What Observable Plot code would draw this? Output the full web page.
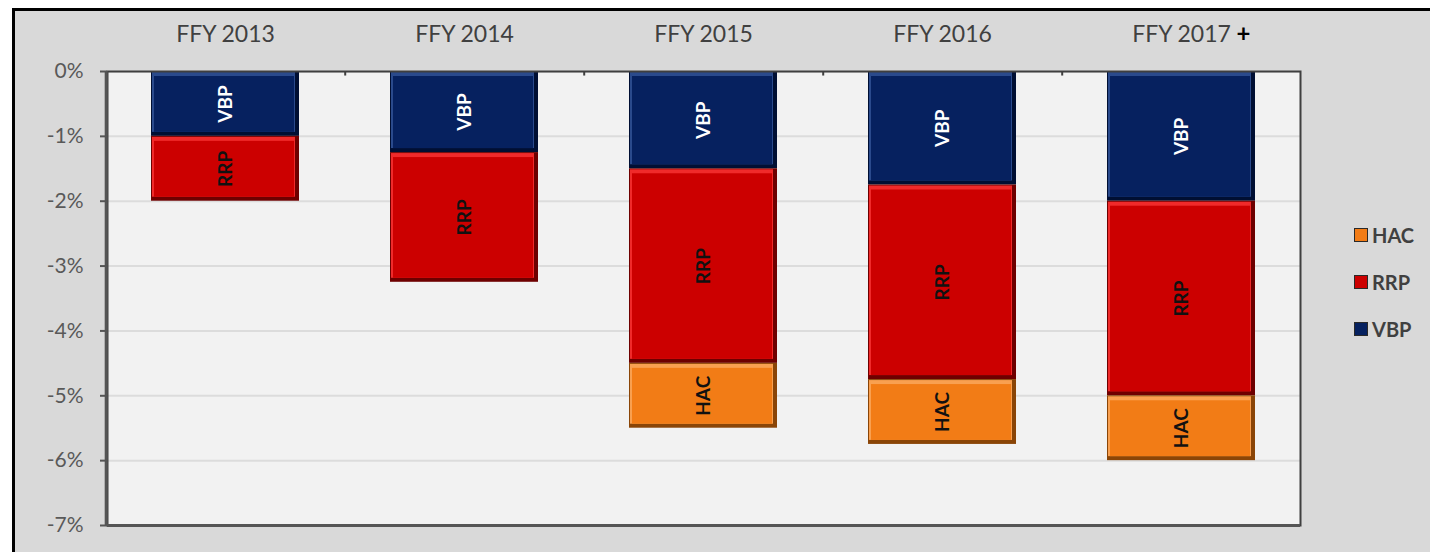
<!DOCTYPE html>
<html>
<head>
<meta charset="utf-8">
<script src="https://cdn.jsdelivr.net/npm/d3@7"></script>
<script src="https://cdn.jsdelivr.net/npm/@observablehq/plot@0.6"></script>
<style>
  html, body { margin: 0; padding: 0; background: #ffffff; overflow: hidden; width: 1430px; height: 552px; }
  #wrap { position: absolute; left: 12px; top: 8px; width: 1430px; height: 560px; border-left: 3px solid #000; border-top: 3px solid #000; background: #d9d9d9; }
  #chart { position: absolute; left: 0; top: 0; }
  #legend { position: absolute; left: 1339px; top: 200px; font-family: Lato, "Open Sans", sans-serif; }
  .row { display: flex; align-items: center; height: 47px; }
  .sw { width: 14px; height: 14px; border: 1.5px solid #2a2a2a; margin-right: 4px; box-sizing: border-box; }
  .lb { font-weight: bold; font-size: 20px; color: #404040; }
</style>
</head>
<body>
<div id="wrap"><div id="chart"></div><div id="legend"></div></div>
<script>
const categories = ["FFY 2013", "FFY 2014", "FFY 2015", "FFY 2016", "FFY 2017"];
const categoryMarks = [{cat: "FFY 2017", text: "+"}];
const series = ["VBP", "RRP", "HAC"];
const vbp = [-1.0, -1.25, -1.5, -1.75, -2.0];
const rrp = [-1.0, -2.0, -3.0, -3.0, -3.0];
const hac = [0, 0, -1.0, -1.0, -1.0];
const yTicks = [0, -1, -2, -3, -4, -5, -6, -7];
const legendOrder = ["HAC", "RRP", "VBP"];

const colors = {VBP: "#06215f", RRP: "#cc0000", HAC: "#f27c16"};
const edges = {VBP: "#000f33", RRP: "#6e0000", HAC: "#8a4507"};
const highlights = {VBP: "#2a4a8c", RRP: "#f02a2a", HAC: "#f9a050"};
const textColors = {VBP: "#ffffff", RRP: "#111111", HAC: "#111111"};

const valuesBySeries = {VBP: vbp, RRP: rrp, HAC: hac};
const data = [];
series.forEach(s => categories.forEach((c, i) => {
  const v = valuesBySeries[s][i];
  if (v !== 0) data.push({cat: c, series: s, value: v});
}));

const W = 1415, H = 541;
const mL = 92, mR = 130, mT = 60, mB = 27;
const step = (W - mL - mR) / categories.length;

const stack = extra => Plot.stackY({x: "cat", y: "value", z: "series", order: series, ...extra});

const chart = Plot.plot({
  width: W,
  height: H,
  marginLeft: mL,
  marginRight: mR,
  marginTop: mT,
  marginBottom: mB,
  style: {background: "transparent", fontFamily: "Lato, 'Open Sans', sans-serif"},
  x: {domain: categories, paddingInner: 0.38, paddingOuter: 0.18, axis: null},
  y: {domain: [-7, 0], axis: null},
  marks: [
    Plot.frame({fill: "#f2f2f2", stroke: "none"}),
    Plot.gridY(yTicks, {stroke: "#dcdcdc", strokeOpacity: 1, strokeWidth: 2}),
    // bar edges (bevel shadow)
    Plot.barY(data, stack({fill: d => edges[d.series]})),
    // top highlight strip
    Plot.barY(data, stack({fill: d => highlights[d.series], insetLeft: 1, insetRight: 4, insetTop: 1, insetBottom: 4})),
    // bar faces
    Plot.barY(data, stack({fill: d => colors[d.series], insetLeft: 3, insetRight: 5, insetTop: 5, insetBottom: 4})),
    Plot.text(data, stack({text: "series", rotate: -90, fill: d => textColors[d.series], fontWeight: "bold", fontSize: 19})),
    Plot.frame({stroke: "#3f3f3f", strokeWidth: 2}),
    Plot.ruleX([0], {x: () => categories[0], dx: -step / 2, stroke: "#555555", strokeWidth: 3, y1: -7, y2: 0}),
    Plot.ruleY([-7], {stroke: "#555555", strokeWidth: 3}),
    Plot.ruleX(categories.slice(1), {x: d => d, dx: -step / 2, y1: 0, y2: -0.07, stroke: "#3f3f3f", strokeWidth: 2}),
    Plot.axisY({ticks: yTicks, tickSize: 7, tickPadding: 17, tickFormat: d => `${d}%`, fontSize: 21, color: "#595959", stroke: "#555555", strokeWidth: 2, label: null}),
    Plot.axisX({anchor: "top", tickSize: 0, tickPadding: 30, fontSize: 23, color: "#404040", label: null}),
    Plot.text(categoryMarks, {x: "cat", y: 0, text: "text", dx: 62, dy: -37, fontSize: 24, fontWeight: "bold", fill: "#000000"})
  ]
});
document.getElementById("chart").appendChild(chart);

const legend = document.getElementById("legend");
legendOrder.forEach(s => {
  const row = document.createElement("div");
  row.className = "row";
  const sw = document.createElement("div");
  sw.className = "sw";
  sw.style.background = colors[s];
  const lb = document.createElement("span");
  lb.className = "lb";
  lb.textContent = s;
  row.appendChild(sw);
  row.appendChild(lb);
  legend.appendChild(row);
});
</script>
</body>
</html>
